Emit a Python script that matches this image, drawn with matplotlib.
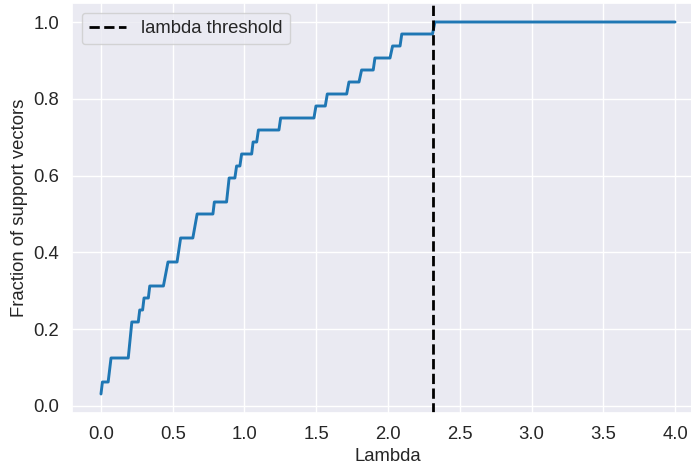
import numpy as np
import matplotlib
matplotlib.use("Agg")
import matplotlib.pyplot as plt
import seaborn as sns

sns.set_theme(style="darkgrid")
plt.rcParams['font.family'] = ['Liberation Sans', 'DejaVu Sans']

# corners of the curve (lambda, fraction in 32nds)
lam = [0.0, 0.01, 0.05, 0.07, 0.19, 0.215, 0.26, 0.27, 0.29, 0.30, 0.33, 0.34,
       0.435, 0.467, 0.53, 0.555, 0.64, 0.67, 0.78, 0.79, 0.875, 0.893, 0.933,
       0.945, 0.968, 0.98, 1.05, 1.06, 1.085, 1.097, 1.24, 1.252, 1.484, 1.498,
       1.563, 1.577, 1.712, 1.728, 1.798, 1.816, 1.897, 1.909, 2.014, 2.032,
       2.084, 2.096, 2.31, 2.327, 4.0]
n_sv = [1, 2, 2, 4, 4, 7, 7, 8, 8, 9, 9, 10, 10, 12, 12, 14, 14, 16, 16, 17,
        17, 19, 19, 20, 20, 21, 21, 22, 22, 23, 23, 24, 24, 25, 25, 26, 26, 27,
        27, 28, 28, 29, 29, 30, 30, 31, 31, 32, 32]
n_total = 32
lambda_threshold = 2.315

frac = np.array(n_sv) / n_total

fig, ax = plt.subplots(figsize=(6.91, 4.66), dpi=100)
fig.subplots_adjust(left=0.1046, right=1.0184, top=0.9927, bottom=0.1146)
ax.plot(lam, frac, color="tab:blue", lw=2.1)
ax.axvline(lambda_threshold, color="black", ls="--", lw=2, label="lambda threshold")
ax.set_xlabel("Lambda", fontsize=13.3)
ax.set_ylabel("Fraction of support vectors", fontsize=13.3)
ax.tick_params(labelsize=13.3)
ax.legend(loc="upper left", fontsize=13.3)
fig.savefig("out.png")
